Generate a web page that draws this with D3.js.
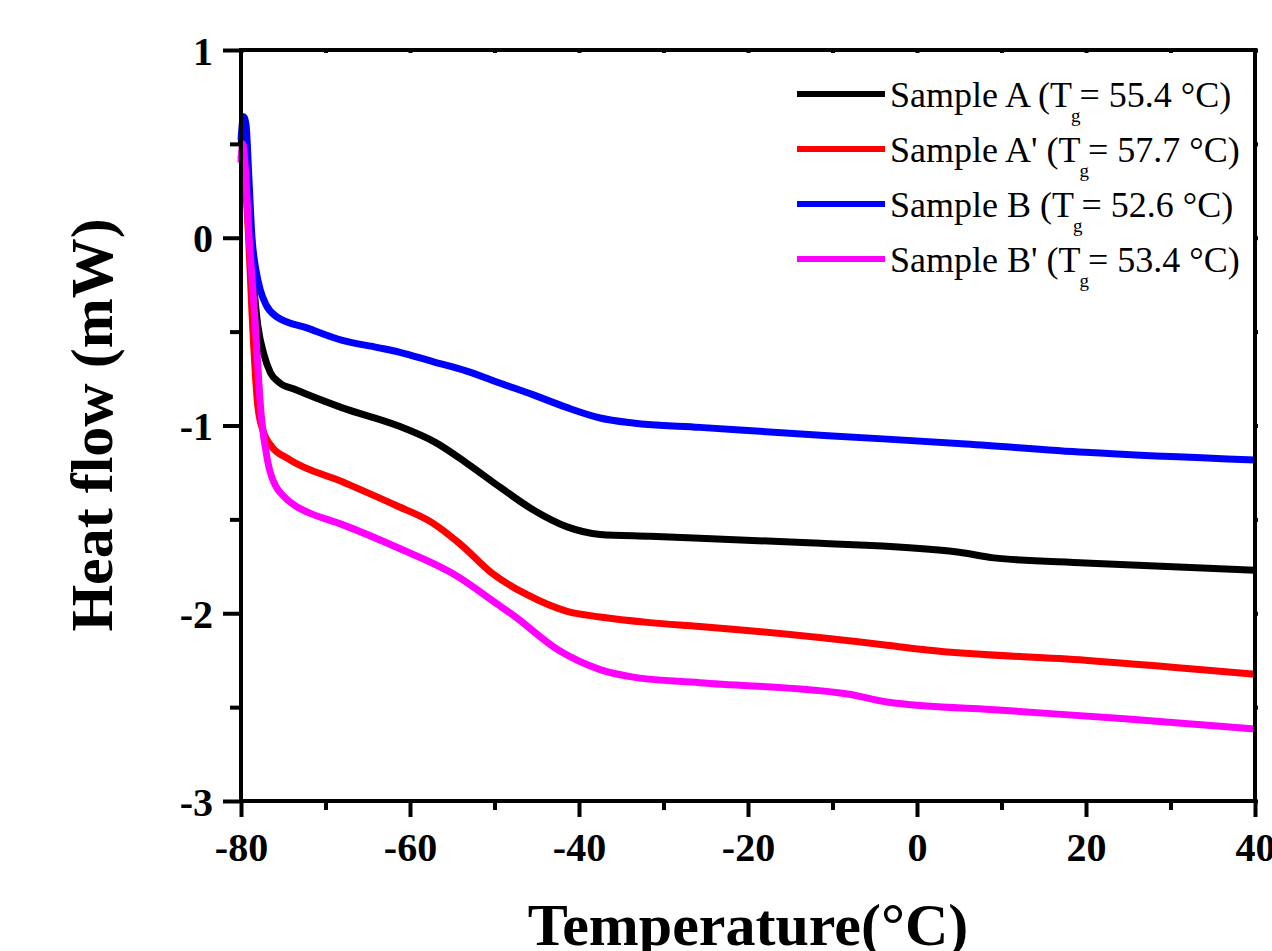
<!DOCTYPE html>
<html>
<head>
<meta charset="utf-8">
<script src="https://cdn.jsdelivr.net/npm/d3@7"></script>
<style>
  html, body { margin: 0; padding: 0; background: #fff; }
  svg { display: block; }
</style>
</head>
<body>
<svg id="chart" width="1272" height="951"></svg>
<script>
// ---- data ----
const xMajorTicks = [-80, -60, -40, -20, 0, 20, 40];
const xMinorTicks = [-70, -50, -30, -10, 10, 30];
const yMajorTicks = [-3, -2, -1, 0, 1];
const yMinorTicks = [-2.5, -1.5, -0.5, 0.5];

const seriesNames = [
  "Sample A", "Sample A'", "Sample B", "Sample B'"
];
const tgValues = ["55.4", "57.7", "52.6", "53.4"];
const seriesColors = ["#000000", "#ff0000", "#0000ff", "#ff00ff"];

const sampleA = [
  [-80, 0.5], [-79.7, 0.55], [-79.3, 0.35], [-78.9, 0.0], [-78.5, -0.25],
  [-78.0, -0.47], [-77.3, -0.62], [-76.5, -0.72], [-75.5, -0.77], [-73.5, -0.81],
  [-68.0, -0.906], [-61.5, -1.0], [-57.0, -1.09], [-53.3, -1.2], [-49.3, -1.33],
  [-45.4, -1.45], [-41.4, -1.54], [-37.5, -1.58], [-31.6, -1.59], [-25.7, -1.6],
  [-12.9, -1.625], [5.0, -1.675], [9.1, -1.705], [19.9, -1.732], [40, -1.771]
];
const sampleA2 = [
  [-80, 0.42], [-79.8, 0.47], [-79.5, 0.3], [-79.1, 0.0], [-78.7, -0.4],
  [-78.0, -0.9], [-77.3, -1.04], [-76.4, -1.11], [-74.3, -1.18], [-68.0, -1.30],
  [-61.7, -1.425], [-57.3, -1.52], [-54.1, -1.63], [-50.2, -1.79], [-46.2, -1.9],
  [-41.4, -1.99], [-37.5, -2.02], [-31.6, -2.05], [-25.7, -2.07], [-3.55, -2.17],
  [1.2, -2.196], [19.9, -2.25], [40, -2.325]
];
const sampleB = [
  [-80, 0.52], [-79.7, 0.645], [-79.4, 0.6], [-79.1, 0.35], [-78.7, 0.0],
  [-78.2, -0.18], [-77.7, -0.28], [-77.0, -0.36], [-75.8, -0.42], [-72.2, -0.48],
  [-68.0, -0.547], [-63.8, -0.585], [-61.2, -0.61], [-57.3, -0.66], [-53.3, -0.71],
  [-49.3, -0.775], [-45.4, -0.837], [-41.4, -0.905], [-37.5, -0.96], [-33.6, -0.987],
  [-25.7, -1.01], [-10.5, -1.054], [5.8, -1.098], [19.9, -1.143], [40, -1.184]
];
const sampleB2 = [
  [-80, 0.4], [-79.8, 0.5], [-79.5, 0.38], [-79.1, 0.05], [-78.4, -0.4],
  [-77.6, -0.95], [-76.8, -1.2], [-75.8, -1.33], [-75.1, -1.37], [-73.5, -1.43],
  [-72.2, -1.46], [-68.0, -1.528], [-61.5, -1.65], [-54.5, -1.8], [-49.7, -1.95],
  [-47.8, -2.01], [-42.3, -2.2], [-37.5, -2.3], [-33.6, -2.34], [-25.7, -2.37],
  [-8.2, -2.43], [-3.55, -2.473], [10.5, -2.518], [24.6, -2.5625], [40, -2.616]
];
const seriesData = [sampleA, sampleA2, sampleB, sampleB2];

// ---- layout ----
const svg = d3.select("#chart");
const mLeft = 241, mRight = 1255, mTop = 50, mBottom = 801;
const x = d3.scaleLinear().domain([-80, 40]).range([mLeft, mRight]);
const y = d3.scaleLinear().domain([-3, 1]).range([mBottom, mTop]);
const FONT = "'Liberation Serif', 'Times New Roman', Times, serif";
const fmt = d => String(d);   // plain hyphen-minus as in the reference

// curves
const line = d3.line().x(d => x(d[0])).y(d => y(d[1])).curve(d3.curveMonotoneX);
const plot = svg.append("g");
seriesData.forEach((s, i) => {
  plot.append("path")
    .datum(s)
    .attr("d", line)
    .attr("fill", "none")
    .attr("stroke", seriesColors[i])
    .attr("stroke-width", 7)
    .attr("stroke-linejoin", "round")
    .attr("stroke-linecap", "butt");
});

// axes
function styleAxis(g) {
  g.select(".domain").remove();
  g.selectAll(".tick line").attr("stroke", "#000").attr("stroke-width", 4);
  g.selectAll(".tick text")
    .attr("font-family", FONT).attr("font-weight", "bold")
    .attr("font-size", 40).attr("fill", "#000");
}

svg.append("g").attr("transform", `translate(0,${mBottom})`)
  .call(d3.axisBottom(x).tickValues(xMajorTicks).tickSize(16).tickPadding(16)
    .tickFormat(fmt))
  .call(styleAxis);
svg.append("g").attr("transform", `translate(0,${mBottom})`)
  .call(d3.axisBottom(x).tickValues(xMinorTicks).tickSize(9).tickFormat(""))
  .call(styleAxis);

svg.append("g").attr("transform", `translate(${mLeft},0)`)
  .call(d3.axisLeft(y).tickValues(yMajorTicks).tickSize(18).tickPadding(10)
    .tickFormat(fmt))
  .call(styleAxis)
  .call(g => g.selectAll(".tick text").attr("dy", "0.35em"));
svg.append("g").attr("transform", `translate(${mLeft},0)`)
  .call(d3.axisLeft(y).tickValues(yMinorTicks).tickSize(11).tickFormat(""))
  .call(styleAxis);

// top & right small ticks
svg.append("g").attr("transform", `translate(0,${mTop})`)
  .call(d3.axisBottom(x).tickValues(xMajorTicks.concat(xMinorTicks)).tickSize(3).tickFormat(""))
  .call(styleAxis);
svg.append("g").attr("transform", `translate(${mRight},0)`)
  .call(d3.axisRight(y).tickValues(yMajorTicks.concat(yMinorTicks)).tickSize(3).tickFormat(""))
  .call(styleAxis);

// frame
svg.append("rect")
  .attr("x", mLeft).attr("y", mTop)
  .attr("width", mRight - mLeft).attr("height", mBottom - mTop)
  .attr("fill", "none").attr("stroke", "#000").attr("stroke-width", 4);

// axis titles
svg.append("text")
  .attr("x", (mLeft + mRight) / 2).attr("y", 945)
  .attr("text-anchor", "middle")
  .attr("font-family", FONT).attr("font-weight", "bold").attr("font-size", 60)
  .text("Temperature(°C)");
svg.append("text")
  .attr("transform", `translate(112,425) rotate(-90)`)
  .attr("text-anchor", "middle")
  .attr("font-family", FONT).attr("font-weight", "bold").attr("font-size", 60)
  .text("Heat flow (mW)");

// legend
const legend = svg.append("g");
seriesNames.forEach((name, i) => {
  const ly = 94 + i * 55;
  legend.append("line")
    .attr("x1", 797).attr("x2", 885).attr("y1", ly).attr("y2", ly)
    .attr("stroke", seriesColors[i]).attr("stroke-width", 6);
  const t = legend.append("text")
    .attr("x", 890).attr("y", ly + 13)
    .attr("font-family", FONT).attr("font-size", 36).attr("fill", "#000");
  t.append("tspan").text(name + " (T");
  t.append("tspan").attr("font-size", 19).attr("dx", -1).attr("dy", 15).text("g");
  t.append("tspan").attr("dy", -15).attr("dx", -1).text("= " + tgValues[i] + " °C)");
});
</script>
</body>
</html>
